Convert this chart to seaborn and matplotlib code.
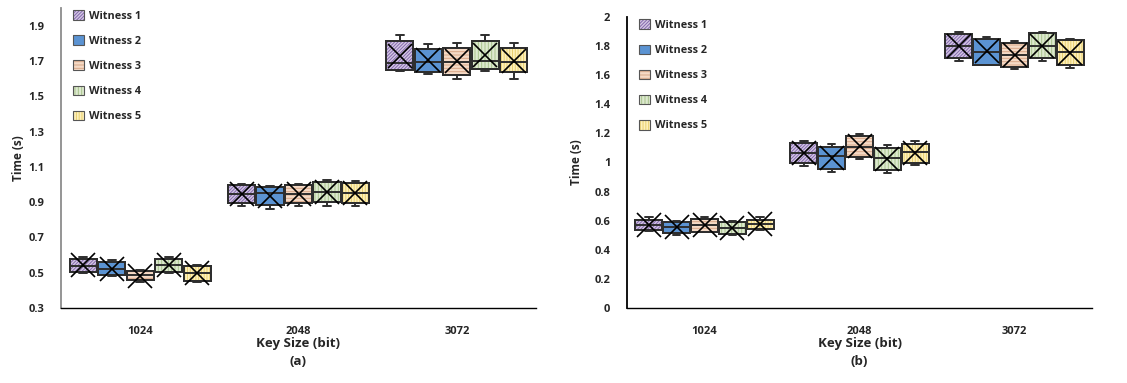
import numpy as np
import pandas as pd
import matplotlib
matplotlib.use('Agg')
import matplotlib.pyplot as plt
import seaborn as sns
from matplotlib.patches import Patch, PathPatch
from matplotlib.legend_handler import HandlerTuple

key_sizes = ['1024', '2048', '3072']
witnesses = ['Witness 1', 'Witness 2', 'Witness 3', 'Witness 4', 'Witness 5']

# each box: whisker low, Q1, median, Q3, whisker high  (one per key size)
# panel (a)
a_w1 = [[0.500, 0.504, 0.538, 0.578, 0.589], [0.880, 0.894, 0.945, 0.998, 1.000], [1.645, 1.650, 1.690, 1.811, 1.845]]
a_w2 = [[0.480, 0.487, 0.520, 0.561, 0.570], [0.862, 0.884, 0.950, 0.985, 0.990], [1.628, 1.640, 1.694, 1.768, 1.796]]
a_w3 = [[0.450, 0.459, 0.485, 0.510, 0.515], [0.880, 0.896, 0.945, 0.998, 1.000], [1.598, 1.622, 1.692, 1.773, 1.802]]
a_w4 = [[0.500, 0.504, 0.545, 0.578, 0.589], [0.880, 0.898, 0.960, 1.013, 1.028], [1.645, 1.654, 1.701, 1.811, 1.845]]
a_w5 = [[0.447, 0.453, 0.500, 0.538, 0.544], [0.880, 0.894, 0.950, 1.008, 1.020], [1.598, 1.640, 1.694, 1.773, 1.800]]
# panel (b)
b_w1 = [[0.530, 0.536, 0.570, 0.605, 0.623], [0.978, 0.994, 1.063, 1.136, 1.150], [1.698, 1.716, 1.801, 1.883, 1.895]]
b_w2 = [[0.504, 0.513, 0.560, 0.593, 0.600], [0.937, 0.953, 1.045, 1.109, 1.125], [1.670, 1.670, 1.762, 1.849, 1.865]]
b_w3 = [[0.520, 0.525, 0.570, 0.610, 0.623], [1.024, 1.040, 1.109, 1.184, 1.193], [1.640, 1.654, 1.739, 1.824, 1.835]]
b_w4 = [[0.500, 0.509, 0.550, 0.593, 0.600], [0.930, 0.950, 1.030, 1.100, 1.120], [1.700, 1.720, 1.800, 1.890, 1.900]]
b_w5 = [[0.535, 0.541, 0.575, 0.605, 0.623], [0.980, 1.000, 1.070, 1.130, 1.150], [1.650, 1.670, 1.760, 1.840, 1.850]]

face_colors = ['#d5c9e4', '#5b93d2', '#f5dac6', '#dde9cf', '#fdf0bb']
hatch_colors = ['#8468ad', '#5b93d2', '#d8a888', '#a8c38c', '#e9cf6e']
hatches = ['//////////', None, '-----', '|||||', '||||||']
edge_col = '#2e2e2e'


def to_frame(series):
    rows = []
    for w, boxes in zip(witnesses, series):
        for k, vals in zip(key_sizes, boxes):
            for v in vals:
                rows.append({'key': k, 'witness': w, 'time': v})
    return pd.DataFrame(rows)


df_a = to_frame([a_w1, a_w2, a_w3, a_w4, a_w5])
df_b = to_frame([b_w1, b_w2, b_w3, b_w4, b_w5])

sns.set_style('white')
plt.rcParams['font.family'] = ['Open Sans', 'DejaVu Sans']
plt.rcParams['font.weight'] = 'bold'
plt.rcParams['hatch.linewidth'] = 0.7

fig = plt.figure(figsize=(11.27, 3.83), dpi=100)
ax_a = fig.add_axes([61 / 1127, 75 / 383, 475 / 1127, 300 / 383])
ax_b = fig.add_axes([627 / 1127, 75 / 383, 465 / 1127, 291 / 383])


def draw(ax, df, ylim, ticks, label, spine_col, ylab_pad):
    sns.boxplot(data=df, x='key', y='time', hue='witness', order=key_sizes,
                hue_order=witnesses, palette=face_colors, saturation=1,
                width=0.9, gap=0.05, whis=(0, 100), showmeans=True,
                meanprops=dict(marker='x', markersize=17, markeredgecolor='black',
                               markeredgewidth=1.2),
                linewidth=1.4, linecolor=edge_col, ax=ax, legend=False)
    for p in list(ax.patches):
        fc = np.array(p.get_facecolor()[:3])
        idx = int(np.argmin([np.sum((fc - np.array(matplotlib.colors.to_rgb(c))) ** 2)
                             for c in face_colors]))
        if hatches[idx]:
            ax.add_patch(PathPatch(p.get_path(), transform=p.get_transform(),
                                   facecolor='none', edgecolor=hatch_colors[idx],
                                   hatch=hatches[idx], lw=0, zorder=p.get_zorder() + 0.01))
        ax.add_patch(PathPatch(p.get_path(), transform=p.get_transform(),
                               facecolor='none', edgecolor=edge_col, lw=1.4,
                               zorder=p.get_zorder() + 0.02))
    # shorten whisker caps
    flat = [ln for ln in ax.lines if len(ln.get_xdata()) == 2
            and ln.get_ydata()[0] == ln.get_ydata()[1]]
    if flat:
        wmax = max(abs(ln.get_xdata()[1] - ln.get_xdata()[0]) for ln in flat)
        for ln in flat:
            x0, x1 = ln.get_xdata()
            if abs(x1 - x0) < 0.8 * wmax:
                c = (x0 + x1) / 2
                ln.set_xdata([c - 0.025, c + 0.025])
    ax.set_ylim(*ylim)
    ax.set_xlim(-0.5, 2.5)
    ax.set_yticks(ticks)
    ax.set_yticklabels(['{:g}'.format(t) for t in ticks], fontsize=8, fontweight='bold')
    ax.set_xticks(range(3))
    ax.set_xticklabels(key_sizes, fontsize=8, fontweight='bold')
    ax.tick_params(axis='x', length=0, pad=13)
    ax.tick_params(axis='y', length=6, width=1.3, color='black', direction='out', pad=6)
    ax.set_xlabel('Key Size (bit)\n' + label, fontsize=9.5, fontweight='bold', labelpad=0,
                  linespacing=1.45)
    ax.set_ylabel('Time (s)', fontsize=8.5, fontweight='bold', labelpad=ylab_pad)
    for s in ['top', 'right']:
        ax.spines[s].set_visible(False)
    ax.spines['left'].set_color(spine_col)
    ax.spines['left'].set_linewidth(1.3)
    ax.spines['bottom'].set_color('black')
    ax.spines['bottom'].set_linewidth(1.0)

    handles = []
    for fc, hc, h in zip(face_colors, hatch_colors, hatches):
        parts = [Patch(facecolor=fc, edgecolor='none')]
        if h:
            parts.append(Patch(facecolor='none', edgecolor=hc, hatch=h, lw=0))
        parts.append(Patch(facecolor='none', edgecolor='#555555', lw=0.8))
        handles.append(tuple(parts))
    ax.legend(handles, witnesses, handler_map={tuple: HandlerTuple(ndivide=1, pad=0)},
              loc='upper left', bbox_to_anchor=(0.005, 1.025), frameon=False,
              handlelength=1.0, handleheight=1.0, handletextpad=0.5,
              labelspacing=1.25, prop={'size': 7.8, 'weight': 'bold'})


draw(ax_a, df_a, (0.3, 2.0), [0.3, 0.5, 0.7, 0.9, 1.1, 1.3, 1.5, 1.7, 1.9], '(a)', '#8c8c8c', 2)
draw(ax_b, df_b, (0.0, 2.0), [0, 0.2, 0.4, 0.6, 0.8, 1.0, 1.2, 1.4, 1.6, 1.8, 2.0], '(b)', 'black', 8)

fig.savefig('out.png', dpi=100)
